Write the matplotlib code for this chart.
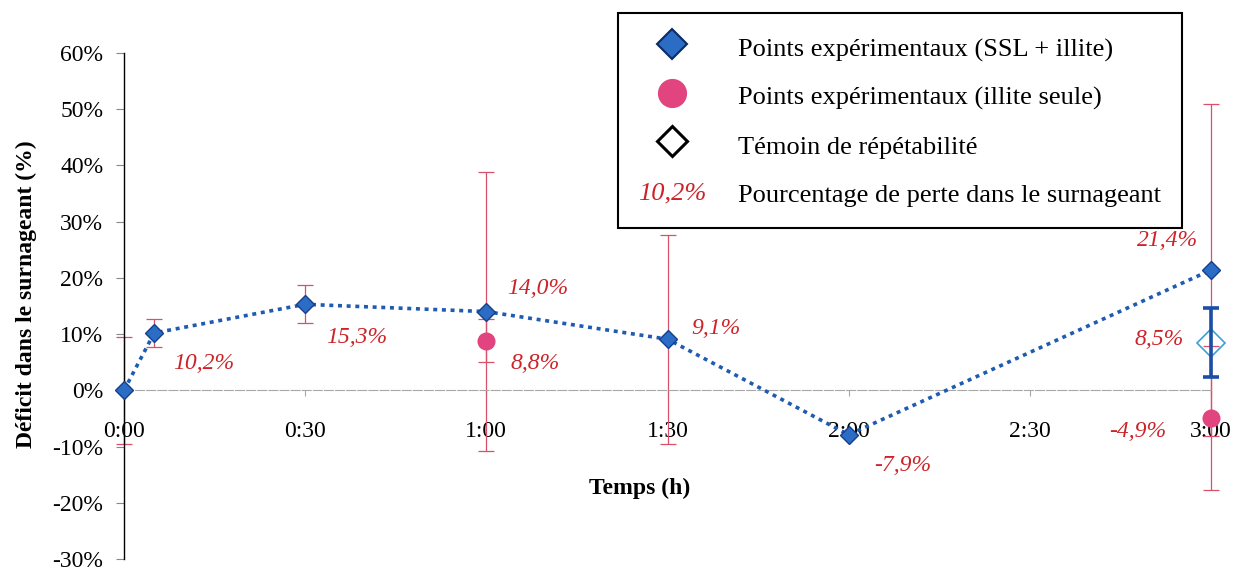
import matplotlib
matplotlib.use("Agg")
import matplotlib.pyplot as plt
from matplotlib.lines import Line2D
from matplotlib.text import Text
from matplotlib.legend_handler import HandlerBase
from matplotlib.ticker import FuncFormatter

plt.rcParams['font.family'] = ['Liberation Serif', 'DejaVu Serif']

# ---------------- data ----------------
t_ssl = [0.0, 5 / 60, 0.5, 1.0, 1.5, 2.0, 3.0]          # hours
ssl = [0.0, 10.2, 15.3, 14.0, 9.1, -7.9, 21.4]          # %
ssl_err = [9.5, 2.5, 3.4, 24.8, 18.6, 0.0, 29.5]

t_illite = [1.0, 3.0]
illite = [8.8, -4.9]
illite_err = [3.8, 12.8]

t_temoin = [3.0]
temoin = [8.5]
temoin_err = [6.2]

x_ticks = [0, 0.5, 1.0, 1.5, 2.0, 2.5, 3.0]
x_tick_labels = ['0:00', '0:30', '1:00', '1:30', '2:00', '2:30', '3:00']
y_ticks = [-30, -20, -10, 0, 10, 20, 30, 40, 50, 60]

ssl_labels_shown = [False, True, True, True, True, True, True]

def pct(v):
    return f"{v:.1f}".replace('.', ',') + '%'

# ---------------- style ----------------
BLUE_FACE = '#2b6cc4'
BLUE_EDGE = '#163f8e'
LINE_BLUE = '#1f5bb0'
PINK = '#e2447f'
ERR_RED = '#d9506a'
TXT_RED = '#cc2228'
TEM_EDGE = '#3d9fd6'
TEM_BAR = '#1b4ea6'
FS = 17
LFS = 19

fig = plt.figure(figsize=(12.42, 5.69), dpi=100)
ax = fig.add_axes([124 / 1242, 10 / 569, 1087 / 1242, 506 / 569])
ax.set_xlim(0, 3)
ax.set_ylim(-30, 60)

# error bars
ax.errorbar(t_ssl, ssl, yerr=ssl_err, fmt='none', ecolor=ERR_RED, elinewidth=0.9,
            capsize=6, capthick=0.9, zorder=2, clip_on=False)
ax.errorbar(t_illite, illite, yerr=illite_err, fmt='none', ecolor=ERR_RED, elinewidth=0.9,
            capsize=6, capthick=0.9, zorder=2, clip_on=False)

# dotted connecting line + markers
ax.plot(t_ssl, ssl, ls=(0, (1.1, 1.3)), lw=2.6, color=LINE_BLUE, zorder=3,
        dash_capstyle='butt', clip_on=False)
ax.plot(t_ssl, ssl, ls='none', marker='D', ms=8.7, mfc=BLUE_FACE, mec=BLUE_EDGE,
        mew=1.0, zorder=4, clip_on=False)
ax.plot(t_illite, illite, ls='none', marker='o', ms=13, mfc=PINK, mec=PINK,
        mew=0, zorder=4, clip_on=False)

# témoin de répétabilité
ax.plot(t_temoin, temoin, ls='none', marker='D', ms=14, mfc='none', mec=TEM_EDGE,
        mew=1.2, zorder=4, clip_on=False)
ax.errorbar(t_temoin, temoin, yerr=temoin_err, fmt='none', ecolor=TEM_BAR, elinewidth=2.6,
            capsize=6, capthick=2.6, zorder=5, clip_on=False)

# value labels
ssl_offsets = [(0, 0), (36, -22), (37, -24), (37, 17), (35, 8), (39, -22), (-31, 21)]
illite_offsets = [(35, -16), (-53, -10)]
temoin_offsets = [(-37, 2)]
txt_kw = dict(textcoords='offset points', ha='center', va='center', color=TXT_RED,
              fontsize=FS, fontstyle='italic', zorder=6)
for x, y, off, show in zip(t_ssl, ssl, ssl_offsets, ssl_labels_shown):
    if show:
        ax.annotate(pct(y), (x, y), xytext=off, **txt_kw)
for x, y, off in zip(t_illite, illite, illite_offsets):
    ax.annotate(pct(y), (x, y), xytext=off, **txt_kw)
for x, y, off in zip(t_temoin, temoin, temoin_offsets):
    ax.annotate(pct(y), (x, y), xytext=off, **txt_kw)

# axes styling
for s in ['top', 'right']:
    ax.spines[s].set_visible(False)
ax.spines['left'].set_color('black')
ax.spines['left'].set_linewidth(1.0)
ax.spines['bottom'].set_position(('data', 0))
ax.spines['bottom'].set_color('#a8a8a8')
ax.spines['bottom'].set_linewidth(0.8)
ax.spines['bottom'].set_linestyle((0, (8, 2)))

ax.set_xticks(x_ticks)
ax.set_xticklabels(x_tick_labels)
ax.set_yticks(y_ticks)
ax.yaxis.set_major_formatter(FuncFormatter(lambda v, p: f"{int(round(v))}%"))
ax.tick_params(axis='x', direction='out', length=4, width=0.8, color='#a8a8a8',
               pad=18, labelsize=FS)
ax.tick_params(axis='y', direction='out', length=6, width=0.8, color='#888888',
               pad=9, labelsize=FS)

ax.set_ylabel('Déficit dans le surnageant (%)', fontsize=FS, fontweight='bold')
ax.yaxis.set_label_coords(-0.09, 0.524)
ax.yaxis.label.set_va('center')
ax.set_xlabel('Temps (h)', fontsize=FS, fontweight='bold')
ax.xaxis.set_label_coords(0.474, 0.140)
ax.xaxis.label.set_va('center')


# legend with a text "handle"
class HandlerPct(HandlerBase):
    def create_artists(self, legend, orig_handle, xdescent, ydescent, width, height,
                       fontsize, trans):
        t = Text(x=width / 2 - xdescent, y=height / 2 - ydescent, text=orig_handle.get_text(),
                 ha='center', va='center', color=TXT_RED, fontstyle='italic',
                 fontsize=fontsize, transform=trans)
        return [t]


h_ssl = Line2D([], [], ls='none', marker='D', ms=15.5, mfc=BLUE_FACE, mec='#0d2a66', mew=1.5)
h_ill = Line2D([], [], ls='none', marker='o', ms=21, mfc=PINK, mec=PINK, mew=0)
h_tem = Line2D([], [], ls='none', marker='D', ms=15.5, mfc='white', mec='black', mew=2.2)
h_pct = Text(text=pct(ssl[1]))

leg = ax.legend([h_ssl, h_ill, h_tem, h_pct],
                ['Points expérimentaux (SSL + illite)',
                 'Points expérimentaux (illite seule)',
                 'Témoin de répétabilité',
                 'Pourcentage de perte dans le surnageant'],
                handler_map={h_pct: HandlerPct()},
                loc='upper left',
                bbox_to_anchor=(618 / 1242, 1 - 221 / 569, 564 / 1242, 208 / 569),
                mode='expand',
                bbox_transform=fig.transFigure, fontsize=LFS, frameon=True,
                fancybox=False, edgecolor='black', framealpha=1, borderpad=0.7,
                handlelength=2.7, handletextpad=1.16, handleheight=1.48,
                labelspacing=0.64, borderaxespad=0, numpoints=1)
leg.get_frame().set_linewidth(1.5)
leg.set_zorder(10)

fig.savefig('out.png', dpi=100)
